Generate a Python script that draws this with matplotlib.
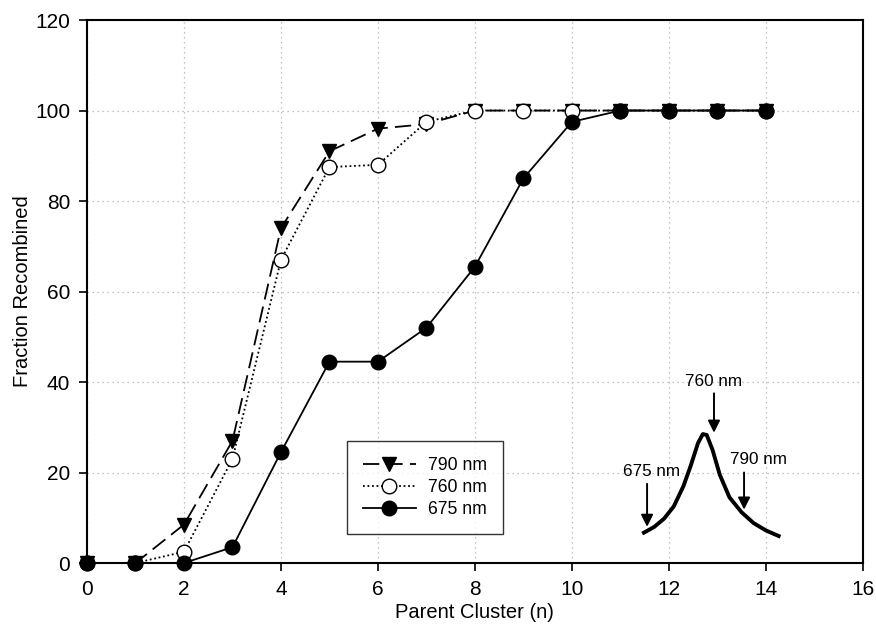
import matplotlib
matplotlib.use("Agg")
import matplotlib.pyplot as plt

plt.rcParams['font.family'] = ['Liberation Sans', 'DejaVu Sans']

n = [0, 1, 2, 3, 4, 5, 6, 7, 8, 9, 10, 11, 12, 13, 14]
f790 = [0, 0, 8.5, 27, 74, 91, 96, 97, 100, 100, 100, 100, 100, 100, 100]
f760 = [0, 0, 2.5, 23, 67, 87.5, 88, 97.5, 100, 100, 100, 100, 100, 100, 100]
f675 = [0, 0, 0, 3.5, 24.5, 44.5, 44.5, 52, 65.5, 85, 97.5, 100, 100, 100, 100]

# inset sketch of the absorption peak
peak_x = [11.45, 11.7, 11.9, 12.1, 12.3, 12.45, 12.6, 12.7, 12.78, 12.9, 13.05, 13.25, 13.5, 13.75, 14.0, 14.3]
peak_y = [6.5, 8.0, 9.8, 12.5, 17.0, 21.5, 26.5, 28.5, 28.3, 25.0, 19.5, 14.5, 11.2, 8.8, 7.2, 5.8]
arrow_labels = ['675 nm', '760 nm', '790 nm']
arrow_x = [11.55, 12.93, 13.55]
arrow_top = [17.5, 37.5, 20.0]
arrow_tip = [8.0, 28.8, 11.8]
label_x = [11.65, 12.93, 13.85]
label_y = [18.5, 38.5, 21.2]

fig = plt.figure(figsize=(8.76, 6.26), dpi=100)
ax = fig.add_axes([0.0993, 0.1006, 0.8857, 0.8674])

ax.plot(n, f790, color='black', linestyle=(0, (9, 4)), linewidth=1.3, marker='v',
        markersize=10.5, markerfacecolor='black', markeredgecolor='black', label='790 nm',
        zorder=3, clip_on=False)
ax.plot(n, f760, color='black', linestyle=(0, (1, 1.5)), linewidth=1.3, marker='o',
        markersize=10.5, markerfacecolor='white', markeredgecolor='black', label='760 nm',
        zorder=4, clip_on=False)
ax.plot(n, f675, color='black', linestyle='-', linewidth=1.3, marker='o',
        markersize=10.5, markerfacecolor='black', markeredgecolor='black', label='675 nm',
        zorder=5, clip_on=False)

ax.plot(peak_x, peak_y, color='black', linewidth=2.8, solid_capstyle='butt', zorder=3)
for lab, ax_x, top, tip, lx, ly in zip(arrow_labels, arrow_x, arrow_top, arrow_tip, label_x, label_y):
    ax.annotate('', xy=(ax_x, tip), xytext=(ax_x, top),
                arrowprops=dict(arrowstyle='-|>', color='black', lw=1.4, mutation_scale=18,
                                shrinkA=0, shrinkB=0))
    ax.text(lx, ly, lab, ha='center', va='bottom', fontsize=12.3)

ax.set_xlim(0, 16)
ax.set_ylim(0, 120)
ax.set_xticks(range(0, 17, 2))
ax.set_yticks(range(0, 121, 20))
ax.tick_params(direction='out', length=6, width=1.2, labelsize=15, pad=6, top=False, right=False)
for s in ax.spines.values():
    s.set_linewidth(1.5)
ax.grid(True, color='#b0b0b0', linestyle=(0, (1, 3)), linewidth=0.9)
ax.set_axisbelow(True)

ax.set_xlabel('Parent Cluster (n)', fontsize=14.5, labelpad=3)
ax.set_ylabel('Fraction Recombined', fontsize=14.5, labelpad=2)

leg = ax.legend(loc='lower left', bbox_to_anchor=(0.335, 0.053), fontsize=12.7,
                frameon=True, fancybox=False, edgecolor='black', handlelength=3.0,
                borderpad=0.9, labelspacing=0.3, handletextpad=0.7, borderaxespad=0)
leg.get_frame().set_linewidth(1.0)

fig.savefig('out.png', dpi=100)
